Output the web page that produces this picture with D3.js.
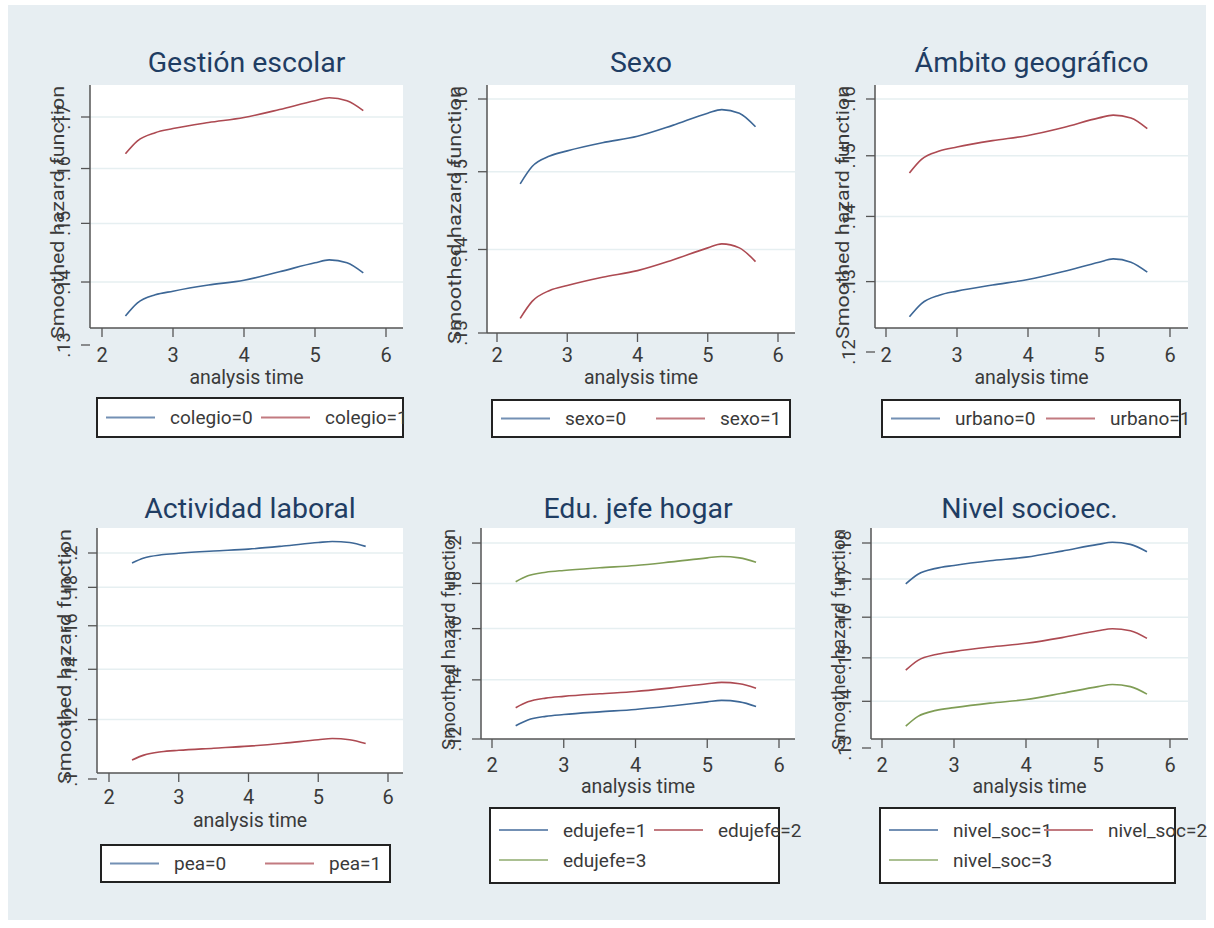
<!DOCTYPE html>
<html>
<head>
<meta charset="utf-8">
<script src="https://cdn.jsdelivr.net/npm/d3@7"></script>
<style>
  body { margin: 0; background: #fff; }
  svg { display: block; font-family: Roboto, "Liberation Sans", sans-serif; }
</style>
</head>
<body>
<svg id="chart" width="1214" height="928"></svg>
<script>
const timeGrid = [2.33, 2.5, 2.75, 3, 3.5, 4, 4.5, 5, 5.2, 5.45, 5.68];

// Gestión escolar
const colegio0 = [.1345, .1366, .1379, .1385, .1395, .1403, .1417, .1432, .1437, .1432, .1415];
const colegio1 = [.1628, .1653, .1669, .1677, .1689, .1699, .1715, .1733, .1739, .1733, .1713];
// Sexo
const sexo0 = [.1484, .1507, .1521, .1528, .1539, .1548, .1563, .1580, .1585, .1580, .1561];
const sexo1 = [.1317, .1337, .1350, .1356, .1366, .1374, .1387, .1402, .1407, .1402, .1385];
// Ámbito geográfico
const urbano0 = [.1249, .1268, .1280, .1286, .1295, .1303, .1315, .1329, .1334, .1329, .1314];
const urbano1 = [.1471, .1494, .1508, .1515, .1526, .1535, .1549, .1566, .1571, .1566, .1547];
// Actividad laboral
const pea0 = [.1940, .1970, .1989, .1998, .2012, .2024, .2043, .2065, .2072, .2065, .2041];
const pea1 = [.1060, .1076, .1087, .1092, .1099, .1106, .1116, .1128, .1132, .1128, .1115];
// Edu. jefe hogar
const edujefe1 = [.1242, .1261, .1273, .1279, .1288, .1296, .1308, .1322, .1327, .1322, .1306];
const edujefe2 = [.1302, .1322, .1335, .1341, .1350, .1358, .1371, .1386, .1391, .1386, .1370];
const edujefe3 = [.1808, .1836, .1853, .1862, .1875, .1886, .1904, .1924, .1931, .1924, .1902];
// Nivel socioec.
const nivel1 = [.1687, .1713, .1729, .1737, .1750, .1760, .1777, .1796, .1802, .1796, .1775];
const nivel2 = [.1471, .1494, .1508, .1515, .1526, .1535, .1549, .1566, .1571, .1566, .1547];
const nivel3 = [.1346, .1367, .1380, .1386, .1396, .1404, .1418, .1433, .1438, .1433, .1416];

const titles = ["Gestión escolar", "Sexo", "Ámbito geográfico", "Actividad laboral", "Edu. jefe hogar", "Nivel socioec."];
const legendLabels = [
  ["colegio=0", "colegio=1"],
  ["sexo=0", "sexo=1"],
  ["urbano=0", "urbano=1"],
  ["pea=0", "pea=1"],
  ["edujefe=1", "edujefe=2", "edujefe=3"],
  ["nivel_soc=1", "nivel_soc=2", "nivel_soc=3"]
];
const seriesByPanel = [
  [colegio0, colegio1],
  [sexo0, sexo1],
  [urbano0, urbano1],
  [pea0, pea1],
  [edujefe1, edujefe2, edujefe3],
  [nivel1, nivel2, nivel3]
];
const yTicks = [
  [.13, .14, .15, .16, .17],
  [.13, .14, .15, .16],
  [.12, .13, .14, .15, .16],
  [.1, .12, .14, .16, .18, .2],
  [.12, .14, .16, .18, .2],
  [.13, .14, .15, .16, .17, .18]
];
const xTicks = [2, 3, 4, 5, 6];
const yTitle = "Smoothed hazard function";
const xTitle = "analysis time";

// layout of each panel (pixel geometry)
const layout = [
  { left: 90, right: 403, top: 85, bottom: 328, x2: 102, x6: 386, yLo: 345, yHi: 117, xLab: 355, xTit: 377, title: 62, leg: [97, 398, 306, 39] },
  { left: 487, right: 795, top: 85, bottom: 333, x2: 497, x6: 778, yLo: 333, yHi: 99, xLab: 355, xTit: 377, title: 62, leg: [492, 400, 298, 37] },
  { left: 875, right: 1188, top: 85, bottom: 328, x2: 886, x6: 1170, yLo: 352, yHi: 99, xLab: 355, xTit: 377, title: 62, leg: [882, 400, 298, 37] },
  { left: 97, right: 403, top: 528, bottom: 773, x2: 109, x6: 388, yLo: 779, yHi: 553, xLab: 797, xTit: 820, title: 508, leg: [101, 845, 289, 37] },
  { left: 481, right: 795, top: 528, bottom: 739, x2: 492, x6: 779, yLo: 739, yHi: 543, xLab: 765, xTit: 786, title: 508, leg: [490, 808, 289, 75] },
  { left: 871, right: 1188, top: 528, bottom: 739, x2: 882, x6: 1170, yLo: 748, yHi: 543, xLab: 765, xTit: 786, title: 508, leg: [880, 808, 295, 75] }
];

const lineColors = ["#3d6796", "#ad4a52", "#7f9d55"];
const legendColors = ["#7390b4", "#c27a80", "#abc092"];
const textColor = "#3a3a3a";

const svg = d3.select("#chart");

svg.append("rect")
  .attr("x", 8).attr("y", 5)
  .attr("width", 1198).attr("height", 915)
  .attr("fill", "#e7eef2");

const fmt = (v) => String(+v.toFixed(2)).replace(/^0/, "");

layout.forEach((p, i) => {
  const g = svg.append("g");
  const ticks = yTicks[i];

  const x = d3.scaleLinear().domain([2, 6]).range([p.x2, p.x6]);
  const y = d3.scaleLog()
    .domain([ticks[0], ticks[ticks.length - 1]])
    .range([p.yLo, p.yHi]);

  // plot region
  g.append("rect")
    .attr("x", p.left).attr("y", p.top)
    .attr("width", p.right - p.left).attr("height", p.bottom - p.top)
    .attr("fill", "#fff");

  // gridlines
  g.selectAll(".grid")
    .data(ticks.filter((t) => y(t) > p.top && y(t) < p.bottom - 2))
    .enter()
    .append("line")
    .attr("x1", p.left).attr("x2", p.right)
    .attr("y1", (d) => y(d)).attr("y2", (d) => y(d))
    .attr("stroke", "#e6eff1")
    .attr("stroke-width", 1.5);

  // curves
  const line = d3.line()
    .x((d, k) => x(timeGrid[k]))
    .y((d) => y(d))
    .curve(d3.curveMonotoneX);

  seriesByPanel[i].forEach((s, k) => {
    g.append("path")
      .attr("d", line(s))
      .attr("fill", "none")
      .attr("stroke", lineColors[k])
      .attr("stroke-width", 1.6);
  });

  // y axis
  g.append("line")
    .attr("x1", p.left).attr("x2", p.left)
    .attr("y1", p.top).attr("y2", p.bottom)
    .attr("stroke", "#555").attr("stroke-width", 1.5);
  g.selectAll(".ytick")
    .data(ticks)
    .enter()
    .append("line")
    .attr("x1", p.left - 9).attr("x2", p.left)
    .attr("y1", (d) => y(d)).attr("y2", (d) => y(d))
    .attr("stroke", "#555").attr("stroke-width", 1.3);
  g.selectAll(".ylab")
    .data(ticks)
    .enter()
    .append("text")
    .attr("transform", (d) => `translate(${p.left - 20},${y(d)}) rotate(-90)`)
    .attr("text-anchor", "middle")
    .style("font-size", "18px")
    .style("fill", textColor)
    .text(fmt);

  g.append("text")
    .attr("transform", `translate(${p.left - 26},${(p.top + p.bottom) / 2 + 6}) rotate(-90)`)
    .attr("text-anchor", "middle")
    .attr("textLength", p.bottom - p.top + 10)
    .attr("lengthAdjust", "spacingAndGlyphs")
    .style("font-size", "19px")
    .style("fill", textColor)
    .text(yTitle);

  // x axis
  g.append("line")
    .attr("x1", p.left).attr("x2", p.right)
    .attr("y1", p.bottom).attr("y2", p.bottom)
    .attr("stroke", "#555").attr("stroke-width", 1.5);
  g.selectAll(".xtick")
    .data(xTicks)
    .enter()
    .append("line")
    .attr("x1", (d) => x(d)).attr("x2", (d) => x(d))
    .attr("y1", p.bottom).attr("y2", p.bottom + 9)
    .attr("stroke", "#555").attr("stroke-width", 1.3);
  g.selectAll(".xlab")
    .data(xTicks)
    .enter()
    .append("text")
    .attr("x", (d) => x(d))
    .attr("y", p.xLab)
    .attr("dy", "0.35em")
    .attr("text-anchor", "middle")
    .style("font-size", "20px")
    .style("fill", textColor)
    .text((d) => d);

  g.append("text")
    .attr("x", (p.left + p.right) / 2)
    .attr("y", p.xTit)
    .attr("dy", "0.35em")
    .attr("text-anchor", "middle")
    .style("font-size", "19.5px")
    .style("fill", textColor)
    .text(xTitle);

  // panel title
  g.append("text")
    .attr("x", (p.left + p.right) / 2)
    .attr("y", p.title)
    .attr("dy", "0.35em")
    .attr("text-anchor", "middle")
    .style("font-size", "28.5px")
    .style("fill", "#1f3d63")
    .text(titles[i]);

  // legend
  const [lx, ly, lw, lh] = p.leg;
  g.append("rect")
    .attr("x", lx).attr("y", ly)
    .attr("width", lw).attr("height", lh)
    .attr("fill", "#fff")
    .attr("stroke", "#222")
    .attr("stroke-width", 2);

  const legend = g.selectAll(".legend")
    .data(legendLabels[i])
    .enter()
    .append("g")
    .attr("transform", (d, k) =>
      `translate(${lx + (k % 2) * 155},${ly + (lh > 50 ? 22 : lh / 2) + Math.floor(k / 2) * 30})`);

  legend.append("line")
    .attr("x1", 9).attr("x2", 58)
    .attr("stroke", (d, k) => legendColors[k])
    .attr("stroke-width", 1.8);

  legend.append("text")
    .attr("x", 73)
    .attr("dy", "0.35em")
    .style("font-size", "19px")
    .style("fill", textColor)
    .text((d) => d);
});
</script>
</body>
</html>
